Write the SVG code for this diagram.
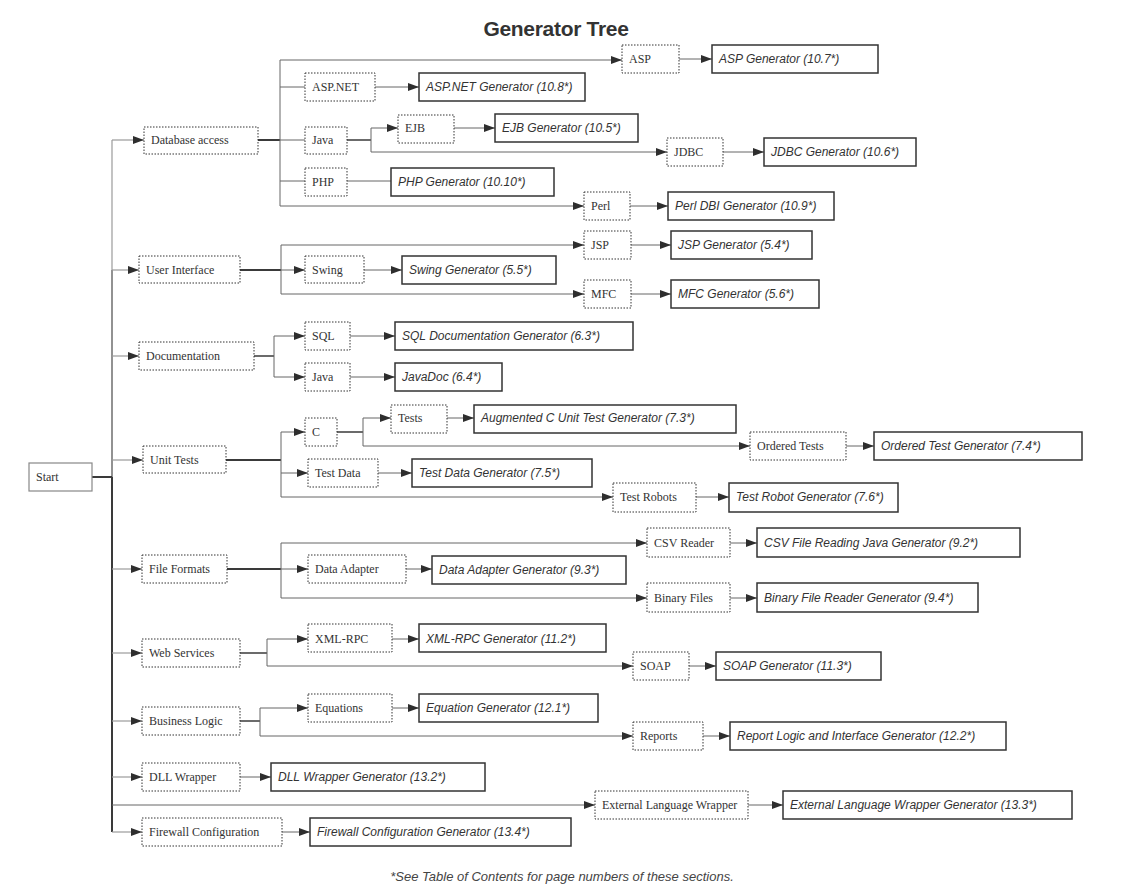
<svg xmlns="http://www.w3.org/2000/svg" width="1138" height="895" viewBox="0 0 1138 895">
<style>
.d{fill:#fff;stroke:#333;stroke-width:1;stroke-dasharray:1.5 1.5}
.g{fill:#fff;stroke:#333;stroke-width:1.5}
.s{fill:#fff;stroke:#888;stroke-width:1.2}
.t{font-family:"Liberation Serif","Times New Roman",serif;font-size:12px;fill:#333}
.gt{font-family:"Liberation Sans",Arial,sans-serif;font-size:12px;font-style:italic;fill:#333}
.c{fill:none;stroke:#666;stroke-width:1}
.l{fill:none;stroke:#9a9a9a;stroke-width:1.2}
.k{fill:none;stroke:#3a3a3a;stroke-width:2}
.a{marker-end:url(#ah)}
</style>
<defs>
<marker id="ah" markerUnits="userSpaceOnUse" markerWidth="11" markerHeight="8" refX="11" refY="4" orient="auto">
<path d="M0,0 L11,4 L0,8 z" fill="#2e2e2e"/>
</marker>
</defs>
<rect width="1138" height="895" fill="#fff"/>
<text x="556" y="36" text-anchor="middle" style="font-family:'Liberation Sans',Arial,sans-serif;font-size:21px;font-weight:bold;fill:#333;letter-spacing:-0.3px">Generator Tree</text>

<g id="connectors">
<!-- trunk -->
<path class="l" d="M112,140 V270"/>
<path class="c" style="stroke:#777;stroke-width:1.6" d="M112,270 V477"/>
<path class="k" d="M112,477 V832"/>
<path class="k" d="M92,477 H112"/>
<!-- level 1 -->
<path class="l a" d="M112,140 H144"/>
<path class="l a" d="M112,270 H139"/>
<path class="l a" d="M112,356 H139"/>
<path class="l a" d="M112,460 H143"/>
<path class="l a" d="M112,569 H142"/>
<path class="l a" d="M112,653 H142"/>
<path class="l a" d="M112,721 H142"/>
<path class="l a" d="M112,777 H142"/>
<path class="c a" d="M112,805 H595"/>
<path class="l a" d="M112,832 H142"/>
<!-- database access -->
<path class="k" d="M258,140 H280"/>
<path class="c" d="M280,60 V206"/>
<path class="c a" d="M280,60 H622"/>
<path class="c a" d="M679,59 H712"/>
<path class="c" d="M280,87 H305"/>
<path class="c a" d="M375,87 H419"/>
<path class="c" d="M280,140 H305"/>
<path class="k" style="stroke-width:1.5" d="M347,140 H371"/>
<path class="c" d="M371,128 V152"/>
<path class="c a" d="M371,128 H398"/>
<path class="c a" d="M454,128 H495"/>
<path class="c a" d="M371,152 H667"/>
<path class="c a" d="M723,152 H764"/>
<path class="c" d="M280,181 H305"/>
<path class="c" d="M347,181 H391"/>
<path class="c a" d="M280,206 H584"/>
<path class="c a" d="M630,206 H668"/>
<!-- user interface -->
<path class="k" d="M240,270 H281"/>
<path class="c" d="M281,245 V294"/>
<path class="c a" d="M281,270 H305"/>
<path class="c a" d="M364,270 H402"/>
<path class="c a" d="M281,245 H584"/>
<path class="c a" d="M631,245 H671"/>
<path class="c a" d="M281,294 H584"/>
<path class="c a" d="M631,294 H671"/>
<!-- documentation -->
<path class="k" style="stroke-width:1.5" d="M254,356 H274"/>
<path class="c" d="M274,336 V377"/>
<path class="c a" d="M274,336 H305"/>
<path class="c a" d="M274,377 H305"/>
<path class="c a" d="M350,336 H395"/>
<path class="c a" d="M350,377 H395"/>
<!-- unit tests -->
<path class="k" d="M226,460 H281"/>
<path class="c" d="M281,432 V497"/>
<path class="c a" d="M281,432 H305"/>
<path class="k" style="stroke-width:1.5" d="M337,432 H363"/>
<path class="c" d="M363,418 V446"/>
<path class="c a" d="M363,418 H391"/>
<path class="c a" d="M447,418 H474"/>
<path class="c a" d="M363,446 H750"/>
<path class="c a" d="M846,446 H874"/>
<path class="c a" d="M281,473 H308"/>
<path class="c a" d="M378,473 H412"/>
<path class="c a" d="M281,497 H613"/>
<path class="c a" d="M696,497 H729"/>
<!-- file formats -->
<path class="k" d="M227,569 H281"/>
<path class="c" d="M281,543 V598"/>
<path class="c a" d="M281,569 H308"/>
<path class="c a" d="M406,569 H432"/>
<path class="c a" d="M281,543 H647"/>
<path class="c a" d="M730,543 H757"/>
<path class="c a" d="M281,598 H647"/>
<path class="c a" d="M730,598 H757"/>
<!-- web services -->
<path class="k" style="stroke-width:1.5" d="M240,653 H267"/>
<path class="c" d="M267,639 V666"/>
<path class="c a" d="M267,639 H308"/>
<path class="c a" d="M392,639 H419"/>
<path class="c a" d="M267,666 H633"/>
<path class="c a" d="M689,666 H716"/>
<!-- business logic -->
<path class="k" style="stroke-width:1.5" d="M240,721 H260"/>
<path class="c" d="M260,708 V736"/>
<path class="c a" d="M260,708 H308"/>
<path class="c a" d="M392,708 H419"/>
<path class="c a" d="M260,736 H633"/>
<path class="c a" d="M703,736 H730"/>
<!-- singles -->
<path class="c a" d="M240,777 H271"/>
<path class="c a" d="M748,805 H783"/>
<path class="c a" d="M282,832 H310"/>
</g>

<g id="start"><rect class="s" x="29" y="463" width="63" height="28"/><text class="t" x="36" y="481">Start</text></g>

<g id="db"><rect class="d" x="144" y="127" width="114" height="27"/><text class="t" x="151" y="144">Database access</text></g>
<g id="asp"><rect class="d" x="622" y="45" width="57" height="28"/><text class="t" x="629" y="63">ASP</text></g>
<g id="aspgen"><rect class="g" x="712" y="45" width="166" height="28"/><text class="gt" x="719" y="63">ASP Generator (10.7*)</text></g>
<g id="aspnet"><rect class="d" x="305" y="73" width="70" height="28"/><text class="t" x="312" y="91">ASP.NET</text></g>
<g id="aspnetgen"><rect class="g" x="419" y="73" width="166" height="28"/><text class="gt" x="426" y="91">ASP.NET Generator (10.8*)</text></g>
<g id="java1"><rect class="d" x="305" y="127" width="42" height="27"/><text class="t" x="312" y="144">Java</text></g>
<g id="ejb"><rect class="d" x="398" y="115" width="56" height="28"/><text class="t" x="405" y="132">EJB</text></g>
<g id="ejbgen"><rect class="g" x="495" y="114" width="143" height="28"/><text class="gt" x="502" y="132">EJB Generator (10.5*)</text></g>
<g id="jdbc"><rect class="d" x="667" y="138" width="56" height="28"/><text class="t" x="674" y="156">JDBC</text></g>
<g id="jdbcgen"><rect class="g" x="764" y="138" width="152" height="28"/><text class="gt" x="771" y="156">JDBC Generator (10.6*)</text></g>
<g id="php"><rect class="d" x="305" y="168" width="42" height="28"/><text class="t" x="312" y="186">PHP</text></g>
<g id="phpgen"><rect class="g" x="391" y="168" width="163" height="28"/><text class="gt" x="398" y="186">PHP Generator (10.10*)</text></g>
<g id="perl"><rect class="d" x="584" y="192" width="46" height="28"/><text class="t" x="591" y="210">Perl</text></g>
<g id="perlgen"><rect class="g" x="668" y="192" width="166" height="28"/><text class="gt" x="675" y="210">Perl DBI Generator (10.9*)</text></g>

<g id="ui"><rect class="d" x="139" y="256" width="101" height="27"/><text class="t" x="146" y="274">User Interface</text></g>
<g id="swing"><rect class="d" x="305" y="256" width="59" height="27"/><text class="t" x="312" y="274">Swing</text></g>
<g id="swinggen"><rect class="g" x="402" y="256" width="154" height="28"/><text class="gt" x="409" y="274">Swing Generator (5.5*)</text></g>
<g id="jsp"><rect class="d" x="584" y="231" width="47" height="28"/><text class="t" x="591" y="249">JSP</text></g>
<g id="jspgen"><rect class="g" x="671" y="231" width="141" height="28"/><text class="gt" x="678" y="249">JSP Generator (5.4*)</text></g>
<g id="mfc"><rect class="d" x="584" y="280" width="47" height="28"/><text class="t" x="591" y="298">MFC</text></g>
<g id="mfcgen"><rect class="g" x="671" y="280" width="148" height="28"/><text class="gt" x="678" y="298">MFC Generator (5.6*)</text></g>

<g id="doc"><rect class="d" x="139" y="342" width="115" height="28"/><text class="t" x="146" y="360">Documentation</text></g>
<g id="sql"><rect class="d" x="305" y="322" width="45" height="28"/><text class="t" x="312" y="340">SQL</text></g>
<g id="sqlgen"><rect class="g" x="395" y="322" width="238" height="28"/><text class="gt" x="402" y="340">SQL Documentation Generator (6.3*)</text></g>
<g id="java2"><rect class="d" x="305" y="363" width="45" height="28"/><text class="t" x="312" y="381">Java</text></g>
<g id="javadoc"><rect class="g" x="395" y="363" width="107" height="28"/><text class="gt" x="402" y="381">JavaDoc (6.4*)</text></g>

<g id="unit"><rect class="d" x="143" y="446" width="83" height="27"/><text class="t" x="150" y="464">Unit Tests</text></g>
<g id="c"><rect class="d" x="305" y="418" width="32" height="28"/><text class="t" x="312" y="436">C</text></g>
<g id="tests"><rect class="d" x="391" y="405" width="56" height="28"/><text class="t" x="398" y="422">Tests</text></g>
<g id="augc"><rect class="g" x="474" y="405" width="262" height="28"/><text class="gt" x="481" y="422">Augmented C Unit Test Generator (7.3*)</text></g>
<g id="ordered"><rect class="d" x="750" y="432" width="96" height="28"/><text class="t" x="757" y="450">Ordered Tests</text></g>
<g id="orderedgen"><rect class="g" x="874" y="432" width="208" height="28"/><text class="gt" x="881" y="450">Ordered Test Generator (7.4*)</text></g>
<g id="testdata"><rect class="d" x="308" y="459" width="70" height="28"/><text class="t" x="315" y="477">Test Data</text></g>
<g id="testdatagen"><rect class="g" x="412" y="459" width="180" height="28"/><text class="gt" x="419" y="477">Test Data Generator (7.5*)</text></g>
<g id="robots"><rect class="d" x="613" y="483" width="83" height="29"/><text class="t" x="620" y="501">Test Robots</text></g>
<g id="robotsgen"><rect class="g" x="729" y="483" width="169" height="29"/><text class="gt" x="736" y="501">Test Robot Generator (7.6*)</text></g>

<g id="ff"><rect class="d" x="142" y="555" width="85" height="28"/><text class="t" x="149" y="573">File Formats</text></g>
<g id="da"><rect class="d" x="308" y="555" width="98" height="28"/><text class="t" x="315" y="573">Data Adapter</text></g>
<g id="dagen"><rect class="g" x="432" y="556" width="194" height="28"/><text class="gt" x="439" y="574">Data Adapter Generator (9.3*)</text></g>
<g id="csv"><rect class="d" x="647" y="528" width="83" height="29"/><text class="t" x="654" y="547">CSV Reader</text></g>
<g id="csvgen"><rect class="g" x="757" y="528" width="263" height="29"/><text class="gt" x="764" y="547">CSV File Reading Java Generator (9.2*)</text></g>
<g id="bin"><rect class="d" x="647" y="583" width="83" height="29"/><text class="t" x="654" y="602">Binary Files</text></g>
<g id="bingen"><rect class="g" x="757" y="583" width="221" height="29"/><text class="gt" x="764" y="602">Binary File Reader Generator (9.4*)</text></g>

<g id="ws"><rect class="d" x="142" y="639" width="98" height="28"/><text class="t" x="149" y="657">Web Services</text></g>
<g id="xmlrpc"><rect class="d" x="308" y="624" width="84" height="28"/><text class="t" x="315" y="643">XML-RPC</text></g>
<g id="xmlrpcgen"><rect class="g" x="419" y="624" width="187" height="28"/><text class="gt" x="426" y="643">XML-RPC Generator (11.2*)</text></g>
<g id="soap"><rect class="d" x="633" y="652" width="56" height="28"/><text class="t" x="640" y="670">SOAP</text></g>
<g id="soapgen"><rect class="g" x="716" y="652" width="165" height="28"/><text class="gt" x="723" y="670">SOAP Generator (11.3*)</text></g>

<g id="bl"><rect class="d" x="142" y="707" width="98" height="28"/><text class="t" x="149" y="725">Business Logic</text></g>
<g id="eq"><rect class="d" x="308" y="694" width="84" height="28"/><text class="t" x="315" y="712">Equations</text></g>
<g id="eqgen"><rect class="g" x="419" y="694" width="179" height="28"/><text class="gt" x="426" y="712">Equation Generator (12.1*)</text></g>
<g id="rep"><rect class="d" x="633" y="722" width="70" height="28"/><text class="t" x="640" y="740">Reports</text></g>
<g id="repgen"><rect class="g" x="730" y="722" width="276" height="28"/><text class="gt" x="737" y="740">Report Logic and Interface Generator (12.2*)</text></g>

<g id="dll"><rect class="d" x="142" y="763" width="98" height="28"/><text class="t" x="149" y="781">DLL Wrapper</text></g>
<g id="dllgen"><rect class="g" x="271" y="763" width="214" height="28"/><text class="gt" x="278" y="781">DLL Wrapper Generator (13.2*)</text></g>
<g id="elw"><rect class="d" x="595" y="791" width="153" height="28"/><text class="t" x="602" y="809">External Language Wrapper</text></g>
<g id="elwgen"><rect class="g" x="783" y="791" width="289" height="28"/><text class="gt" x="790" y="809">External Language Wrapper Generator (13.3*)</text></g>
<g id="fw"><rect class="d" x="142" y="818" width="140" height="28"/><text class="t" x="149" y="836">Firewall Configuration</text></g>
<g id="fwgen"><rect class="g" x="310" y="818" width="261" height="28"/><text class="gt" x="317" y="836">Firewall Configuration Generator (13.4*)</text></g>

<text x="562" y="881" text-anchor="middle" style="font-family:'Liberation Sans',Arial,sans-serif;font-size:13px;font-style:italic;fill:#444">*See Table of Contents for page numbers of these sections.</text>
</svg>
